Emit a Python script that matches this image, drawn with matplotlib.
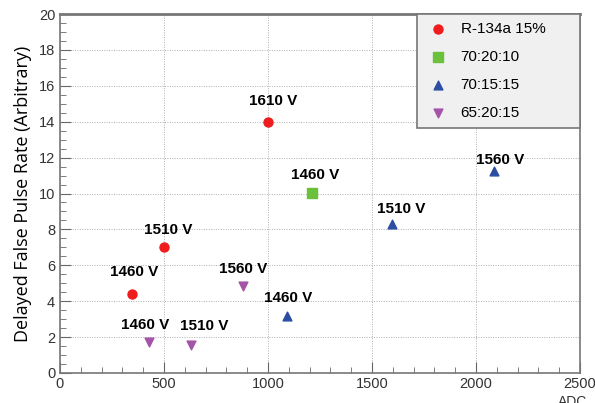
import matplotlib
matplotlib.use("Agg")
import matplotlib.pyplot as plt
from matplotlib.ticker import MultipleLocator

# Data
r134a_x = [345, 500, 1000]
r134a_y = [4.4, 7.0, 14.0]
r134a_lbl = ["1460 V", "1510 V", "1610 V"]

m702010_x = [1210]
m702010_y = [10.05]
m702010_lbl = ["1460 V"]

m701515_x = [1090, 1595, 2085]
m701515_y = [3.2, 8.3, 11.25]
m701515_lbl = ["1460 V", "1510 V", "1560 V"]

m652015_x = [428, 630, 880]
m652015_y = [1.75, 1.55, 4.85]
m652015_lbl = ["1460 V", "1510 V", "1560 V"]

series_names = ["R-134a 15%", "70:20:10", "70:15:15", "65:20:15"]

fig = plt.figure(figsize=(5.95, 4.03), dpi=100)
ax = fig.add_axes([60/595, 1-373/403, 520/595, (373-14)/403])

ax.scatter(r134a_x, r134a_y, marker='o', s=42, color='#ee1c1c', label=series_names[0], zorder=3)
ax.scatter(m702010_x, m702010_y, marker='s', s=42, color='#6cc13a', label=series_names[1], zorder=3)
ax.scatter(m701515_x, m701515_y, marker='^', s=40, color='#2b4ea2', label=series_names[2], zorder=3)
ax.scatter(m652015_x, m652015_y, marker='v', s=40, color='#a553a8', label=series_names[3], zorder=3)

lbl_kw = dict(fontsize=11, fontweight='bold', ha='center', va='center',
              textcoords='offset points', family='Liberation Sans', color='black')

def px(o):
    return (o[0] * 0.72, o[1] * 0.72)

offsets_r = [(2, 22), (4, 17), (5, 21)]
for x, y, t, o in zip(r134a_x, r134a_y, r134a_lbl, offsets_r):
    ax.annotate(t, (x, y), xytext=px(o), **lbl_kw)
offsets_g = [(3, 18)]
for x, y, t, o in zip(m702010_x, m702010_y, m702010_lbl, offsets_g):
    ax.annotate(t, (x, y), xytext=px(o), **lbl_kw)
offsets_b = [(1, 18), (9, 15), (6, 11)]
for x, y, t, o in zip(m701515_x, m701515_y, m701515_lbl, offsets_b):
    ax.annotate(t, (x, y), xytext=px(o), **lbl_kw)
offsets_p = [(-4, 17), (13, 19), (0, 17)]
for x, y, t, o in zip(m652015_x, m652015_y, m652015_lbl, offsets_p):
    ax.annotate(t, (x, y), xytext=px(o), **lbl_kw)

ax.set_xlim(0, 2500)
ax.set_ylim(0, 20)
ax.xaxis.set_major_locator(MultipleLocator(500))
ax.xaxis.set_minor_locator(MultipleLocator(100))
ax.yaxis.set_major_locator(MultipleLocator(2))
ax.yaxis.set_minor_locator(MultipleLocator(0.5))
ax.grid(True, which='major', linestyle=(0, (1, 1.5)), color='#b0b0b0', linewidth=0.7)
ax.set_axisbelow(True)
ax.tick_params(which='both', direction='in', color='#666666', labelsize=10.5,
               labelcolor='#333333', top=False, right=False)
ax.tick_params(which='major', length=8)
ax.tick_params(which='minor', length=4)
ax.tick_params(axis='x', pad=3)
for lab in ax.get_xticklabels() + ax.get_yticklabels():
    lab.set_family('Liberation Sans')
for s in ax.spines.values():
    s.set_color('#777777')
    s.set_linewidth(1.2)
ax.spines['top'].set_linewidth(2)

ax.set_ylabel("Delayed False Pulse Rate (Arbitrary)", fontsize=13, family='Open Sans', labelpad=5)
ax.set_xlabel("ADC", fontsize=10, labelpad=0, color='#333333', family='Liberation Sans')
ax.xaxis.set_label_coords(0.985, -0.06)

leg_left = (417 - 60) / 520
leg_h = (128 - 15) / 359
leg = ax.legend(loc='upper left', bbox_to_anchor=(leg_left, 1.0 - leg_h, 1.0 - leg_left, leg_h),
                mode='expand', frameon=True, fancybox=False,
                prop={'family': 'Liberation Sans', 'size': 11},
                handletextpad=0.7, labelspacing=0.9, borderpad=0.55,
                borderaxespad=0.0, markerscale=1.0, handlelength=1.6)
leg.get_frame().set_facecolor('#f0f0f0')
leg.get_frame().set_edgecolor('#777777')
leg.get_frame().set_linewidth(1.2)
leg.get_frame().set_alpha(1)

fig.savefig("out.png", dpi=100)
